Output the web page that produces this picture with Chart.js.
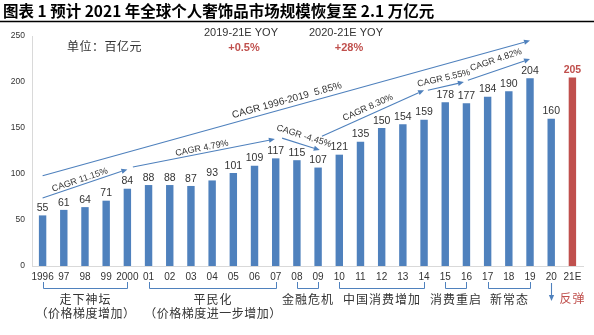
<!DOCTYPE html>
<html>
<head>
<meta charset="utf-8">
<script src="https://cdn.jsdelivr.net/npm/chart.js@4/dist/chart.umd.min.js"></script>
<style>
  html, body { margin: 0; padding: 0; background: #fff; }
  #wrap { width: 594px; height: 335px; position: relative; }
</style>
</head>
<body>
<div id="wrap"><canvas id="c" width="594" height="335"></canvas></div>
<script>
// ---- data ----
const categories = ['1996','97','98','99','2000','01','02','03','04','05','06','07','08','09','10','11','12','13','14','15','16','17','18','19','20','21E'];
const values = [55,61,64,71,84,88,88,87,93,101,109,117,115,107,121,135,150,154,159,178,177,184,190,204,160,205];
const forecastIndex = 25;
const yTicks = [0,50,100,150,200,250];

const titleText = '图表 1 预计 2021 年全球个人奢饰品市场规模恢复至 2.1 万亿元';
const unitText = '单位：百亿元';
const yoyTitles = ['2019-21E YOY','2020-21E YOY'];
const yoyValues = ['+0.5%','+28%'];

const cagrLabels = ['CAGR 1996-2019  5.85%','CAGR 11.15%','CAGR 4.79%','CAGR -4.45%','CAGR 8.30%','CAGR 5.55%','CAGR 4.82%'];
const cagrFrom = [[0,98],[0,74],[4.26,107.6],[11.3,139],[13.18,141],[18.18,191],[20.07,202]];
const cagrTo = [[23,245],[4,105],[10.96,138],[13.08,126],[18,191],[19.88,200],[23,225]];
const cagrTextAt = [[11.53,180],[1.76,93.5],[7.52,128],[12.33,141],[15.35,172],[18.93,204],[21.39,224]];

const phaseRanges = [[0,4],[5,11],[12,13],[14,18],[19,20],[21,23]];
const phaseNames = ['走下神坛','平民化','金融危机','中国消费增加','消费重启','新常态'];
const phaseNotes = ['（价格梯度增加）','（价格梯度进一步增加）','','','',''];
const reboundIndex = 24;
const reboundText = '反弹';

const BLUE = '#4F81BD';
const RED = '#C0504D';
const TXT = '#333333';
const LATIN = '"Liberation Sans", Arial, "Noto Sans CJK SC", sans-serif';
const CJK = '"Noto Sans CJK SC", "Liberation Sans", sans-serif';

function arrow(ctx, x1, y1, x2, y2, color) {
  ctx.save();
  ctx.strokeStyle = color; ctx.fillStyle = color; ctx.lineWidth = 1.1;
  const a = Math.atan2(y2 - y1, x2 - x1);
  const hl = 6, hw = 2.6;
  const bx = x2 - hl * Math.cos(a), by = y2 - hl * Math.sin(a);
  ctx.beginPath(); ctx.moveTo(x1, y1); ctx.lineTo(bx, by); ctx.stroke();
  ctx.beginPath();
  ctx.moveTo(x2, y2);
  ctx.lineTo(bx + hw * Math.sin(a), by - hw * Math.cos(a));
  ctx.lineTo(bx - hw * Math.sin(a), by + hw * Math.cos(a));
  ctx.closePath(); ctx.fill();
  ctx.restore();
}

const annotate = {
  id: 'annotate',
  afterDatasetsDraw(chart) {
    const { ctx, scales: { x, y } } = chart;
    // value labels
    const meta = chart.getDatasetMeta(0);
    ctx.save();
    ctx.textAlign = 'center'; ctx.textBaseline = 'bottom';
    meta.data.forEach((bar, i) => {
      const fc = i === forecastIndex;
      ctx.fillStyle = fc ? RED : TXT;
      ctx.font = (fc ? 'bold ' : '') + '10.5px ' + LATIN;
      ctx.fillText(String(values[i]), bar.x, bar.y - 2);
    });
    ctx.restore();

    // CAGR arrows and labels
    cagrLabels.forEach((lab, k) => {
      const x1 = x.getPixelForValue(cagrFrom[k][0]), y1 = y.getPixelForValue(cagrFrom[k][1]);
      const x2 = x.getPixelForValue(cagrTo[k][0]), y2 = y.getPixelForValue(cagrTo[k][1]);
      arrow(ctx, x1, y1, x2, y2, BLUE);
      const tx = x.getPixelForValue(cagrTextAt[k][0]), ty = y.getPixelForValue(cagrTextAt[k][1]);
      ctx.save();
      ctx.translate(tx, ty);
      ctx.rotate(Math.atan2(y2 - y1, x2 - x1));
      ctx.fillStyle = TXT;
      ctx.font = (k === 0 ? '10px ' : '9px ') + LATIN;
      ctx.textAlign = 'center'; ctx.textBaseline = 'middle';
      ctx.fillText(lab, 0, 0);
      ctx.restore();
    });
  },
  afterDraw(chart) {
    const { ctx, scales: { x }, chartArea } = chart;
    const W = chart.width;
    ctx.save();
    // title
    ctx.fillStyle = '#000';
    ctx.font = 'bold 15.5px ' + CJK;
    ctx.textAlign = 'left'; ctx.textBaseline = 'middle';
    ctx.fillText(titleText, 3, 11);
    ctx.strokeStyle = '#000'; ctx.lineWidth = 1.5;
    ctx.beginPath(); ctx.moveTo(0, 21.5); ctx.lineTo(W, 21.5); ctx.stroke();

    // unit
    ctx.fillStyle = TXT;
    ctx.font = '12px ' + CJK;
    ctx.letterSpacing = '0.5px';
    ctx.fillText(unitText, 67, 46);
    ctx.letterSpacing = '0px';

    // YOY notes
    ctx.textAlign = 'center';
    const yoyX = [241, 346];
    yoyTitles.forEach((t, i) => {
      ctx.fillStyle = TXT; ctx.font = '11px ' + LATIN;
      ctx.fillText(t, yoyX[i], 33);
      ctx.fillStyle = RED; ctx.font = 'bold 11px ' + LATIN;
      ctx.fillText(yoyValues[i], yoyX[i] + 3, 48);
    });

    // phase brackets
    const bTop = chartArea.bottom + 16, bY = chartArea.bottom + 22.5;
    phaseRanges.forEach((r, i) => {
      const xa = Math.round(x.getPixelForValue(r[0])) + 0.5;
      const xb = Math.round(x.getPixelForValue(r[1])) + 0.5;
      ctx.strokeStyle = BLUE; ctx.lineWidth = 1;
      ctx.beginPath();
      ctx.moveTo(xa, bTop); ctx.lineTo(xa, bY); ctx.lineTo(xb, bY); ctx.lineTo(xb, bTop);
      ctx.stroke();
      const cx = (xa + xb) / 2;
      ctx.fillStyle = TXT; ctx.font = '12px ' + CJK;
      ctx.letterSpacing = '1px';
      ctx.fillText(phaseNames[i], cx, chartArea.bottom + 33);
      if (phaseNotes[i]) {
        ctx.letterSpacing = '0.5px';
        ctx.fillText(phaseNotes[i], cx, chartArea.bottom + 47);
      }
      ctx.letterSpacing = '0px';
    });
    // rebound
    const rx = Math.round(x.getPixelForValue(reboundIndex)) + 0.5;
    arrow(ctx, rx, chartArea.bottom + 17, rx, chartArea.bottom + 35, BLUE);
    ctx.fillStyle = RED; ctx.font = '12px ' + CJK;
    ctx.letterSpacing = '1px';
    ctx.fillText(reboundText, x.getPixelForValue(forecastIndex), chartArea.bottom + 32);
    ctx.restore();
  }
};

new Chart(document.getElementById('c'), {
  type: 'bar',
  data: {
    labels: categories,
    datasets: [{
      data: values,
      backgroundColor: values.map((v, i) => i === forecastIndex ? RED : BLUE),
      barPercentage: 0.35,
      categoryPercentage: 1
    }]
  },
  options: {
    responsive: false,
    animation: false,
    devicePixelRatio: 1,
    layout: { padding: { top: 36, right: 11, left: 0, bottom: 0 } },
    plugins: { legend: { display: false }, tooltip: { enabled: false }, title: { display: false } },
    scales: {
      x: {
        grid: { display: false, drawTicks: false },
        border: { display: true, color: '#d9d9d9', width: 1 },
        ticks: { color: TXT, font: { size: 10, family: LATIN }, padding: 5, maxRotation: 0, autoSkip: false },
        afterFit(s) { s.height = 69; }
      },
      y: {
        min: 0, max: 250,
        grid: { display: false, drawTicks: false },
        border: { display: true, color: '#d9d9d9', width: 1 },
        afterBuildTicks(s) { s.ticks = yTicks.map(v => ({ value: v })); },
        ticks: { color: TXT, font: { size: 8.5, family: LATIN }, padding: 7 },
        afterFit(s) { s.width = 32; }
      }
    }
  },
  plugins: [annotate]
});
</script>
</body>
</html>
